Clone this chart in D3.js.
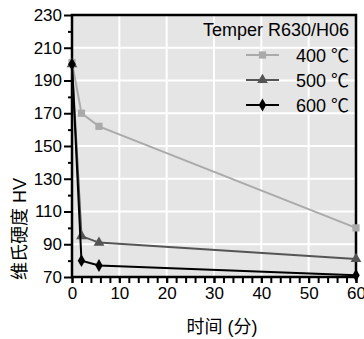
<!DOCTYPE html>
<html>
<head>
<meta charset="utf-8">
<script src="https://cdn.jsdelivr.net/npm/d3@7"></script>
<style>
    body { margin: 0; background: #fff; }
    text { font-family: "Liberation Sans", Arial, "Noto Sans CJK SC", sans-serif; fill: #000; }
</style>
</head>
<body>
<svg id="chart" width="364" height="339"></svg>
<script>
'use strict';

// data
var seriesNames = ['400 ℃', '500 ℃', '600 ℃'];
var times = [0, 2, 5.7, 60];
var hv400 = [201, 170, 162, 100];
var hv500 = [200, 95, 91, 81];
var hv600 = [200, 80, 77, 71];
var xTicks = [0, 10, 20, 30, 40, 50, 60];
var yTicks = [70, 90, 110, 130, 150, 170, 190, 210, 230];
var legendTitle = 'Temper R630/H06';
var xTitle = '时间 (分)';
var yTitle = '维氏硬度 HV';

var series = [
    {name: seriesNames[0], values: hv400, color: '#aaaaaa', symbol: d3.symbolSquare, size: 52},
    {name: seriesNames[1], values: hv500, color: '#555555', symbol: d3.symbolTriangle, size: 50},
    {name: seriesNames[2], values: hv600, color: '#000000', symbol: d3.symbolDiamond, size: 48}
];

// plot box
var plotLeft = 72, plotRight = 356, plotTop = 15, plotBottom = 277;

var svg = d3.select('#chart');

var x = d3.scaleLinear().domain([0, 60]).range([plotLeft, plotRight]);
var y = d3.scaleLinear().domain([70, 230]).range([plotBottom, plotTop]);

// plot background
svg.append('rect')
    .attr('x', plotLeft)
    .attr('y', plotTop)
    .attr('width', plotRight - plotLeft)
    .attr('height', plotBottom - plotTop)
    .attr('fill', '#e5e5e5');

// white grid
var grid = svg.append('g').attr('class', 'grid');
grid.selectAll('line.gx')
    .data(xTicks.slice(1, -1))
    .enter().append('line')
    .attr('x1', d => x(d)).attr('x2', d => x(d))
    .attr('y1', plotTop).attr('y2', plotBottom)
    .attr('stroke', '#fff').attr('stroke-width', 2);
grid.selectAll('line.gy')
    .data(yTicks.slice(1, -1))
    .enter().append('line')
    .attr('x1', plotLeft).attr('x2', plotRight)
    .attr('y1', d => y(d)).attr('y2', d => y(d))
    .attr('stroke', '#fff').attr('stroke-width', 2);

// axes
var xAxis = svg.append('g')
    .attr('transform', `translate(0, ${plotBottom})`)
    .call(d3.axisBottom(x).tickValues(d3.range(0, 61, 2)).tickSize(6).tickFormat(''));
xAxis.append('g')
    .call(d3.axisBottom(x).tickValues(xTicks).tickSize(6).tickPadding(4).tickFormat(d3.format('d')));

var yAxis = svg.append('g')
    .attr('transform', `translate(${plotLeft}, 0)`)
    .call(d3.axisLeft(y).tickValues(d3.range(80, 230, 20)).tickSize(4).tickFormat(''));
yAxis.append('g')
    .call(d3.axisLeft(y).tickValues(yTicks).tickSize(8).tickPadding(2).tickFormat(d3.format('d')));

svg.selectAll('.domain').remove();
svg.selectAll('.tick line').attr('stroke', '#000').attr('stroke-width', 2);
svg.selectAll('.tick text')
    .style('font-size', '17px')
    .attr('fill', '#000');

// frame
svg.append('rect')
    .attr('x', plotLeft)
    .attr('y', plotTop)
    .attr('width', plotRight - plotLeft)
    .attr('height', plotBottom - plotTop)
    .attr('fill', 'none')
    .attr('stroke', '#000')
    .attr('stroke-width', 2.5);

// series
var line = d3.line()
    .x((d, i) => x(times[i]))
    .y(d => y(d));

series.forEach(s => {
    var g = svg.append('g').attr('class', 'series');
    g.append('path')
        .attr('d', line(s.values))
        .attr('fill', 'none')
        .attr('stroke', s.color)
        .attr('stroke-width', 2);
    g.selectAll('path.mark')
        .data(s.values)
        .enter().append('path')
        .attr('class', 'mark')
        .attr('transform', (d, i) => `translate(${x(times[i])}, ${y(d)})`)
        .attr('d', d3.symbol().type(s.symbol).size(s.size))
        .attr('fill', s.color);
});

// legend
var legend = svg.append('g').attr('class', 'legend');
legend.append('text')
    .attr('x', 349)
    .attr('y', 36)
    .attr('text-anchor', 'end')
    .style('font-size', '18px')
    .text(legendTitle);

series.forEach((s, i) => {
    var cy = 55 + i * 25;
    var row = legend.append('g');
    row.append('line')
        .attr('x1', 246).attr('x2', 279)
        .attr('y1', cy).attr('y2', cy)
        .attr('stroke', s.color)
        .attr('stroke-width', 2);
    row.append('path')
        .attr('transform', `translate(262.5, ${cy})`)
        .attr('d', d3.symbol().type(s.symbol).size(s.size))
        .attr('fill', s.color);
    row.append('text')
        .attr('x', 349)
        .attr('y', cy + 6.5)
        .attr('text-anchor', 'end')
        .style('font-size', '18px')
        .text(s.name);
});

// axis titles
svg.append('text')
    .attr('x', 222)
    .attr('y', 333)
    .attr('text-anchor', 'middle')
    .style('font-size', '18px')
    .text(xTitle);

svg.append('text')
    .attr('transform', 'translate(26, 229) rotate(-90)')
    .attr('text-anchor', 'middle')
    .style('font-size', '18px')
    .text(yTitle);
</script>
</body>
</html>
